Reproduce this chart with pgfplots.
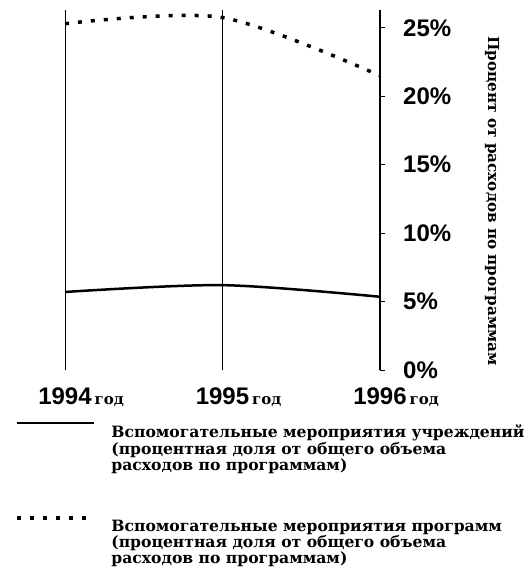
\documentclass[border=0pt]{standalone}
\usepackage{fontspec}
\setmainfont{Liberation Sans}
\newfontfamily\legfont{DejaVu Serif Bold}
\usepackage{pgfplots}
\pgfplotsset{compat=1.18}
\newcommand{\yr}[1]{{\fontsize{24bp}{24bp}\selectfont\bfseries #1}\makebox[0pt][l]{\hspace{3bp}\legfont\fontsize{15bp}{15bp}\selectfont год}}
\begin{document}
\begin{tikzpicture}
\useasboundingbox (-65bp,-202bp) rectangle (465bp,370bp);
\begin{axis}[
 scale only axis, width=315bp, height=360bp,
 at={(0,0)}, anchor=south west,
 xmin=1994, xmax=1996, ymin=0, ymax=26.3,
 axis y line=right, axis x line=bottom,
 axis line style={-},
 x axis line style={draw=none},
 y axis line style={black, line width=1.2bp},
 xtick={1994,1995,1996},
 xticklabels={\yr{1994},\yr{1995},\yr{1996}},
 xtick style={draw=none},
 xmajorgrids, major grid style={black, line width=0.9bp},
 ytick={0,5,10,15,20,25},
 yticklabels={0\%,5\%,10\%,15\%,20\%,25\%},
 ytick style={black, line width=0.8bp},
 tick align=outside, major tick length=5bp,
 yticklabel style={font=\fontsize{24bp}{24bp}\selectfont\bfseries, anchor=west, inner sep=0pt, xshift=18bp},
 xticklabel style={anchor=base, inner sep=0pt, yshift=-29bp},
 clip=false,
 legend style={at={(axis description cs:-0.159,-0.144)}, anchor=north west, draw=none, fill=none, inner sep=0pt, outer sep=0pt, row sep=75bp, column sep=14bp, cells={anchor=north west, inner sep=0pt}},
 legend image code/.code={\draw[#1] (0bp,0bp) -- (77bp,0bp);},
]
\addplot[black, line width=2.5bp, smooth] coordinates {(1994,5.7) (1995,6.2) (1996,5.35)};
\addlegendentry{\parbox[t]{420bp}{\legfont\fontsize{15.6bp}{14bp}\selectfont Вспомогательные мероприятия учреждений\\(процентная доля от общего объема\\расходов по программам)}}
\addplot[black, line width=3.5bp, smooth, dash pattern=on 4bp off 9bp] coordinates {(1994,25.3) (1995,25.75) (1996,21.5)};
\addlegendentry{\parbox[t]{420bp}{\legfont\fontsize{15.6bp}{14bp}\selectfont Вспомогательные мероприятия программ\\(процентная доля от общего объема\\расходов по программам)}}
\node[rotate=-90, font=\legfont\fontsize{15.2bp}{15.2bp}\selectfont] at (axis description cs:1.356,0.469) {Процент от расходов по программам};
\end{axis}
\end{tikzpicture}
\end{document}
